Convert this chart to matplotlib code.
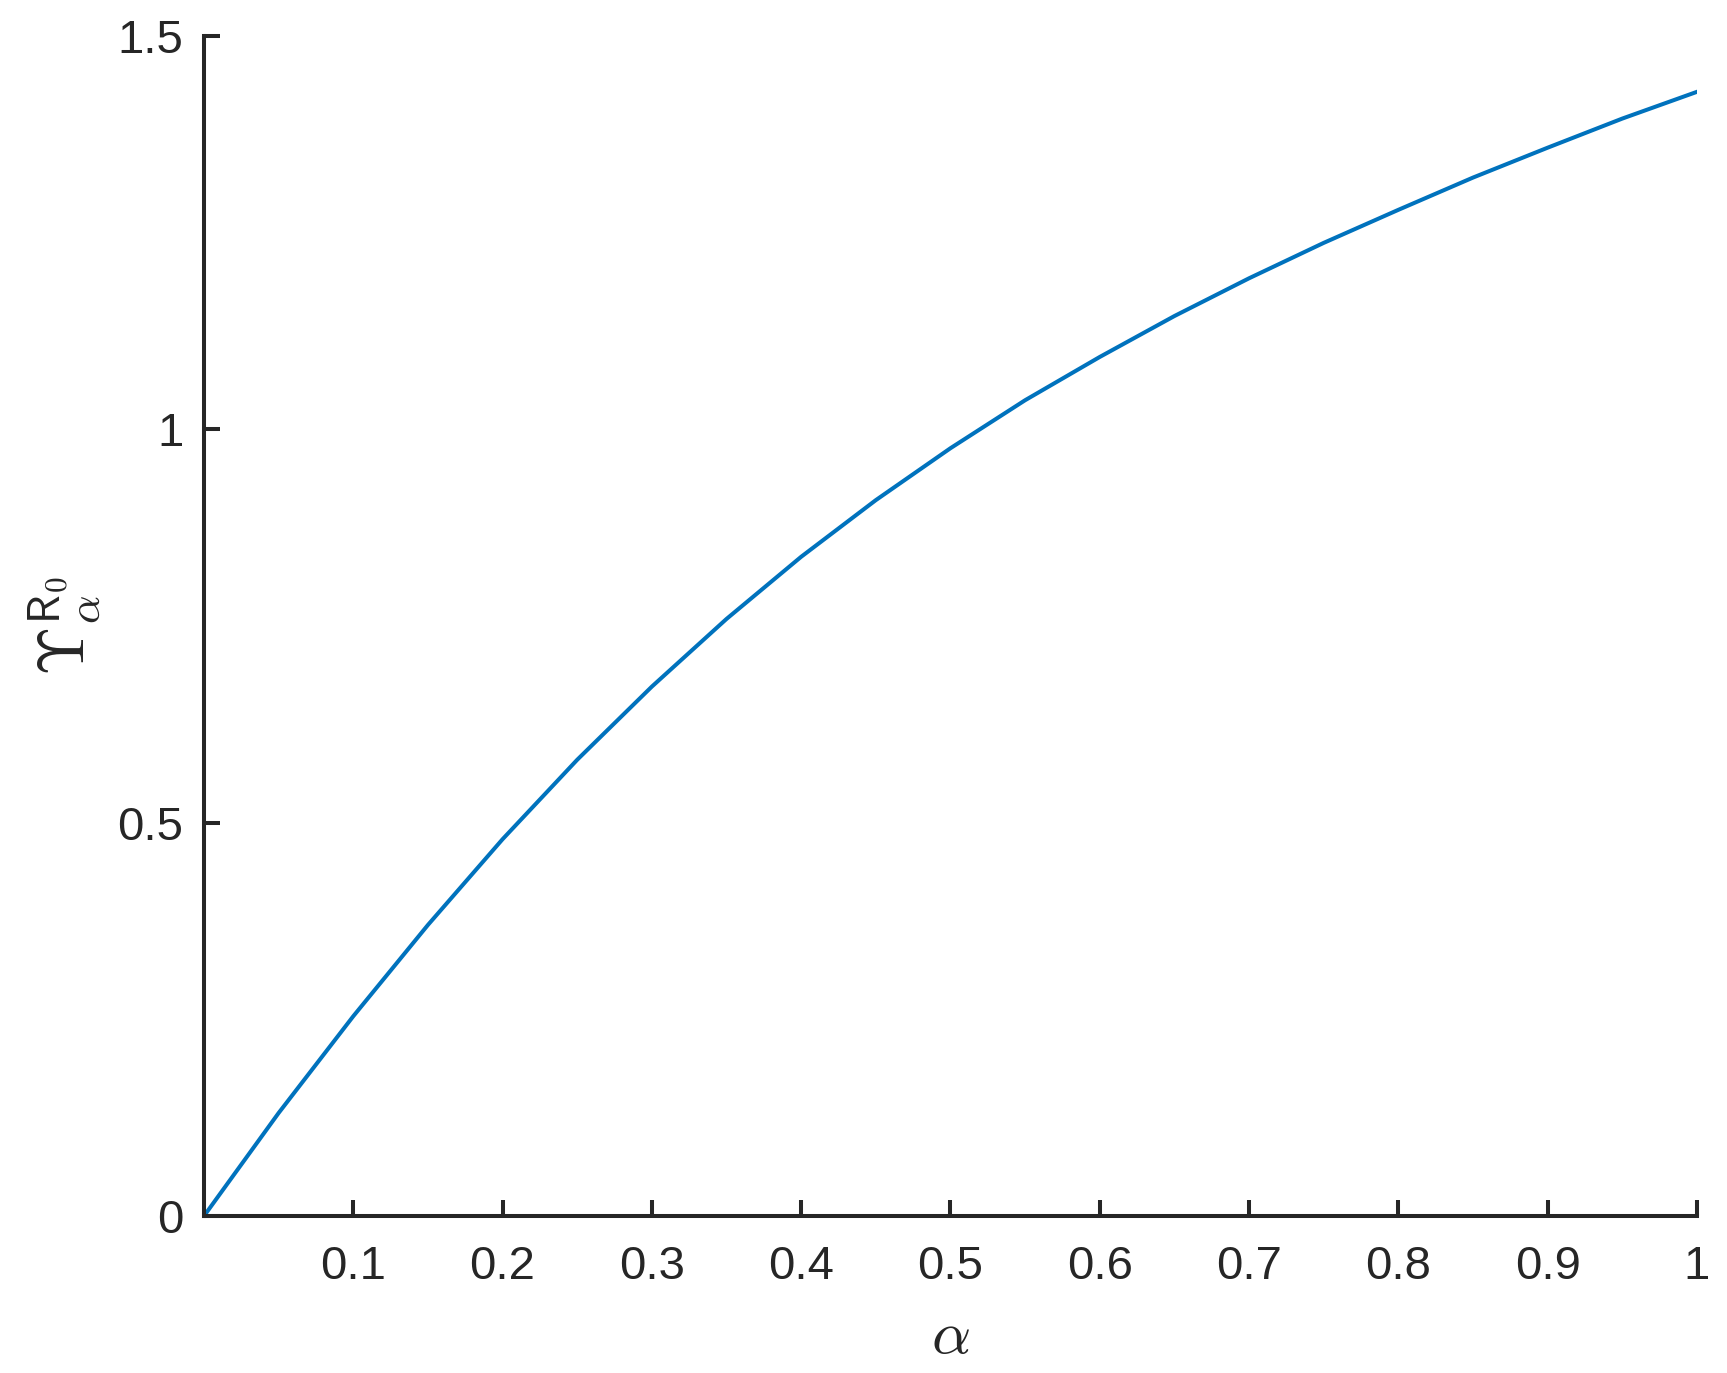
import numpy as np
import matplotlib
matplotlib.use('Agg')
import matplotlib.pyplot as plt

# values
alpha = [0, 0.05, 0.1, 0.15, 0.2, 0.25, 0.3, 0.35, 0.4, 0.45, 0.5,
         0.55, 0.6, 0.65, 0.7, 0.75, 0.8, 0.85, 0.9, 0.95, 1.0]
upsilon = [0, 0.131, 0.254, 0.370, 0.479, 0.580, 0.673, 0.759, 0.838, 0.910, 0.976,
           1.037, 1.092, 1.144, 1.192, 1.237, 1.279, 1.320, 1.358, 1.395, 1.429]

x_ticks = [0.1, 0.2, 0.3, 0.4, 0.5, 0.6, 0.7, 0.8, 0.9, 1]
x_labels = ['0.1', '0.2', '0.3', '0.4', '0.5', '0.6', '0.7', '0.8', '0.9', '1']
y_ticks = [0, 0.5, 1, 1.5]
y_labels = ['0', '0.5', '1', '1.5']

plt.rcParams['font.family'] = ['Liberation Sans', 'DejaVu Sans']
plt.rcParams['mathtext.fontset'] = 'cm'

text_col = '#262626'
fig = plt.figure(figsize=(17.27, 13.73), dpi=100)
ax = fig.add_axes([0.1181, 0.1143, 0.8645, 0.8595])

ax.plot(alpha, upsilon, color='#0072BD', lw=2.9, solid_joinstyle='round')

ax.set_xlim(0, 1)
ax.set_ylim(0, 1.5)
ax.set_xticks(x_ticks)
ax.set_xticklabels(x_labels)
ax.set_yticks(y_ticks)
ax.set_yticklabels(y_labels)

for side in ['top', 'right']:
    ax.spines[side].set_visible(False)
for side in ['left', 'bottom']:
    ax.spines[side].set_linewidth(2.9)
    ax.spines[side].set_color(text_col)

ax.tick_params(axis='both', direction='in', length=11.5, width=2.9,
               colors=text_col, labelsize=34)
ax.tick_params(axis='x', pad=21)
ax.tick_params(axis='y', pad=15)

ax.set_xlabel(r'$\alpha$', fontsize=44, color=text_col, labelpad=14)
ax.set_ylabel(r'$\Upsilon_{\alpha}^{\mathsf{R}_{\mathsf{0}}}$', fontsize=46,
              color=text_col, labelpad=10)

fig.savefig('out.png', dpi=100, facecolor='white')
